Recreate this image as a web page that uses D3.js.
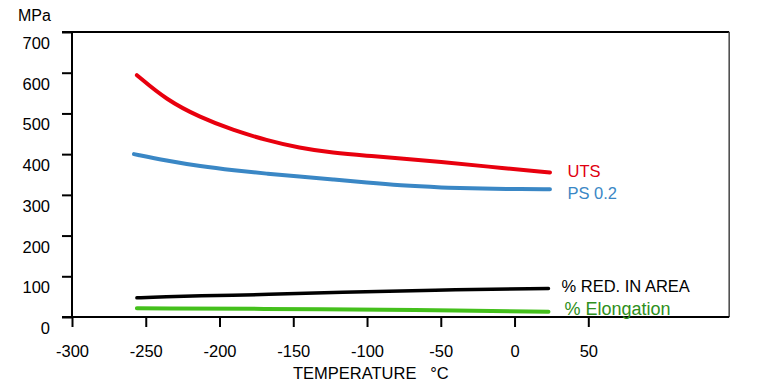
<!DOCTYPE html>
<html><head><meta charset="utf-8">
<script src="https://cdn.jsdelivr.net/npm/d3@7"></script>
<style>body{margin:0;background:#fff}svg{display:block;font-family:"Liberation Sans",Arial,sans-serif}</style>
</head><body><svg id="c" width="760" height="385"></svg>
<script>
const xTicks = [-300, -250, -200, -150, -100, -50, 0, 50];
const yTicks = [0, 100, 200, 300, 400, 500, 600, 700];
const seriesNames = ["UTS", "PS 0.2", "% RED. IN AREA", "% Elongation"];
const utsTemp = [-256, -236, -213, -191, -168, -146, -123, -100, -78, -50, -20, 24];
const utsVal  = [594, 533, 490, 459, 434, 415, 403, 396, 390, 381, 370, 355];
const psTemp = [-258, -236, -213, -190, -168, -146, -123, -100, -78, -50, -20, 0, 24];
const psVal  = [400, 384, 370, 360, 352, 345, 338, 330, 323, 318, 315, 314, 314];
const raTemp = [-256, -240, -200, -170, -118, -57, 23];
const raVal  = [47, 50, 53, 55, 61, 66, 70];
const elTemp = [-256, -118, -57, 23];
const elVal  = [21.5, 19, 17, 13];

const svg = d3.select("#c");
const x = d3.scaleLinear().domain([-300, 50]).range([72, 588.3]);
const y = d3.scaleLinear().domain([0, 700]).range([317, 32]);
const xEnd = x(145.5);

// frame
svg.append("line").attr("x1", 62).attr("x2", xEnd).attr("y1", y(700)).attr("y2", y(700)).attr("stroke", "#000").attr("stroke-width", 2);
svg.append("line").attr("x1", xEnd).attr("x2", xEnd).attr("y1", y(700)).attr("y2", y(0)).attr("stroke", "#444").attr("stroke-width", 1.5);

// y axis
const yAxis = d3.axisLeft(y).tickValues(yTicks).tickSize(10).tickFormat(d3.format("d"));
const gy = svg.append("g").attr("transform", "translate(72,0)").call(yAxis);
gy.select(".domain").attr("stroke-width", 2).attr("d", `M0,${y(700)}V${y(0)}`);
gy.selectAll(".tick line").attr("stroke-width", 2);
gy.selectAll(".tick text").attr("x", -22).attr("dy", "1.0em").style("font-size", "16.5px").attr("fill", "#000");

// x axis
const xAxis = d3.axisBottom(x).tickValues(xTicks).tickSize(10).tickFormat(d3.format("d"));
const gx = svg.append("g").attr("transform", `translate(0,${y(0)})`).call(xAxis);
gx.select(".domain").attr("stroke-width", 2).attr("d", `M62,0H${xEnd}`);
gx.selectAll(".tick line").attr("stroke-width", 2);
gx.selectAll(".tick text").attr("y", 28).attr("dy", "0.71em").style("font-size", "16.5px").attr("fill", "#000")
  .text(d => d < 0 ? "-" + Math.abs(d) : d);

svg.append("text").attr("x", 18).attr("y", 21).style("font-size", "16px").text("MPa");
svg.append("text").attr("x", 293).attr("y", 378.5).style("font-size", "16.5px").attr("xml:space", "preserve").text("TEMPERATURE   °C");

const line = d3.line().x(d => x(d[0])).y(d => y(d[1])).curve(d3.curveBasis);
const series = [
  {t: utsTemp, v: utsVal, color: "#e8000e", w: 4},
  {t: psTemp, v: psVal, color: "#3a87c5", w: 4},
  {t: raTemp, v: raVal, color: "#000", w: 3.5},
  {t: elTemp, v: elVal, color: "#44c01c", w: 4}
];
series.forEach(s => {
  svg.append("path").datum(s.t.map((t, i) => [t, s.v[i]]))
    .attr("d", line).attr("fill", "none").attr("stroke", s.color)
    .attr("stroke-width", s.w).attr("stroke-linecap", "round");
});

const labels = [
  {x: 567.5, y: 177, color: "#e00010", size: 16.5},
  {x: 567.5, y: 199, color: "#3a87c5", size: 16.5},
  {x: 561.5, y: 291.5, color: "#000", size: 16.5},
  {x: 564.5, y: 315, color: "#2e8f20", size: 18}
];
labels.forEach((l, i) => {
  svg.append("text").attr("x", l.x).attr("y", l.y).attr("fill", l.color)
    .style("font-size", l.size + "px").text(seriesNames[i]);
});
</script></body></html>
